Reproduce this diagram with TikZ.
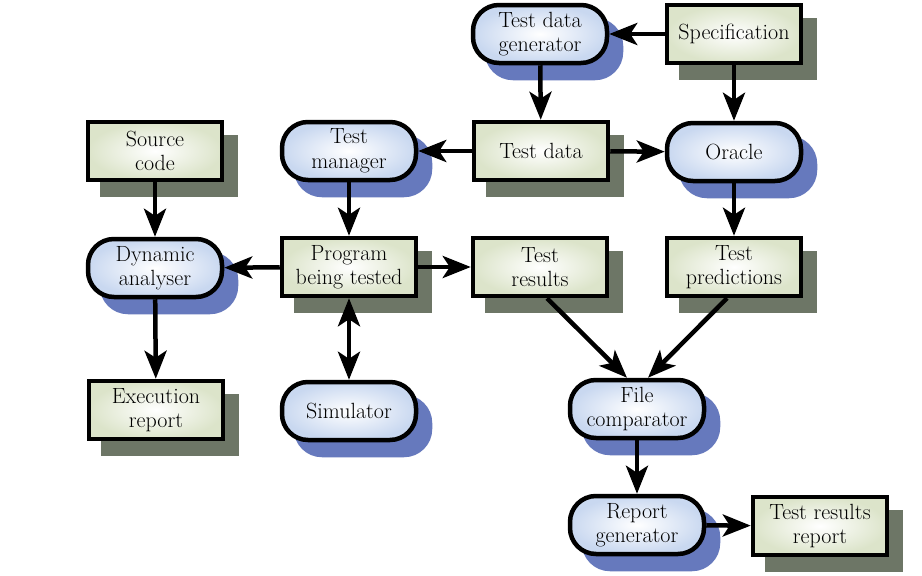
\documentclass[tikz,border=0pt]{standalone}
\usetikzlibrary{arrows.meta,shadows}
\definecolor{gbox}{HTML}{DCE4CA}
\definecolor{bbox}{HTML}{C9D8F0}
\definecolor{gshad}{HTML}{6D7666}
\definecolor{bshad}{HTML}{6679BD}
\begin{document}
\begin{tikzpicture}[x=1pt,y=-1pt,
 base/.style={draw=black, line width=4.5pt, minimum width=134pt, minimum height=58pt,
   align=center, font=\fontsize{22}{24.5}\selectfont, inner sep=1pt},
 sqbox/.style={base, inner color=white, outer color=gbox,
   drop shadow={shadow xshift=14pt, shadow yshift=-15pt, fill=gshad, draw=gshad, line width=4.5pt, opacity=1}},
 rbox/.style={base, rounded corners=26pt, inner color=white, outer color=bbox,
   drop shadow={shadow xshift=14pt, shadow yshift=-15pt, fill=bshad, draw=bshad, line width=4.5pt, opacity=1}},
 arr/.style={line width=4.5pt, -{Stealth[length=28pt,width=22pt,inset=7pt]}},
 darr/.style={line width=4.5pt, {Stealth[length=28pt,width=22pt,inset=7pt]}-{Stealth[length=28pt,width=22pt,inset=7pt]}},
]
\useasboundingbox[fill=white] (0,0) rectangle (922,576);

\node[rbox]  (gen)    at (540,34)  {Test data\\generator};
\node[sqbox] (spec)   at (734,34)  {Specification};
\node[sqbox] (src)    at (155,151) {Source\\code};
\node[rbox]  (mgr)    at (349,151) {Test\\manager};
\node[sqbox] (tdata)  at (541,151) {Test data};
\node[rbox]  (oracle) at (734,152) {Oracle};
\node[rbox]  (dyn)    at (155,268) {Dynamic\\analyser};
\node[sqbox] (prog)   at (349,267) {Program\\being tested};
\node[sqbox] (tres)   at (540,267) {Test\\results};
\node[sqbox] (pred)   at (734,267) {Test\\predictions};
\node[sqbox] (exec)   at (156,410) {Execution\\report};
\node[rbox]  (sim)    at (349,411) {Simulator};
\node[rbox]  (fcomp)  at (637,409) {File\\comparator};
\node[rbox]  (rgen)   at (637,525) {Report\\generator};
\node[sqbox] (trr)    at (820,526) {Test results\\report};

\draw[arr] (spec.west) -- (gen.east);
\draw[arr] (gen) -- (tdata);
\draw[arr] (spec) -- (oracle);
\draw[arr] (tdata) -- (mgr);
\draw[arr] (tdata) -- (oracle);
\draw[arr] (src) -- (dyn);
\draw[arr] (mgr) -- (prog);
\draw[arr] (prog) -- (dyn);
\draw[arr] (prog) -- (tres);
\draw[arr] (oracle) -- (pred);
\draw[arr] (dyn) -- (exec);
\draw[darr] (prog) -- (sim);
\draw[arr] ([xshift=7pt]tres.south) -- ([xshift=-10pt]fcomp.north);
\draw[arr] ([xshift=-7pt]pred.south) -- ([xshift=11pt]fcomp.north);
\draw[arr] (fcomp) -- (rgen);
\draw[arr] (rgen) -- (trr);
\end{tikzpicture}
\end{document}
